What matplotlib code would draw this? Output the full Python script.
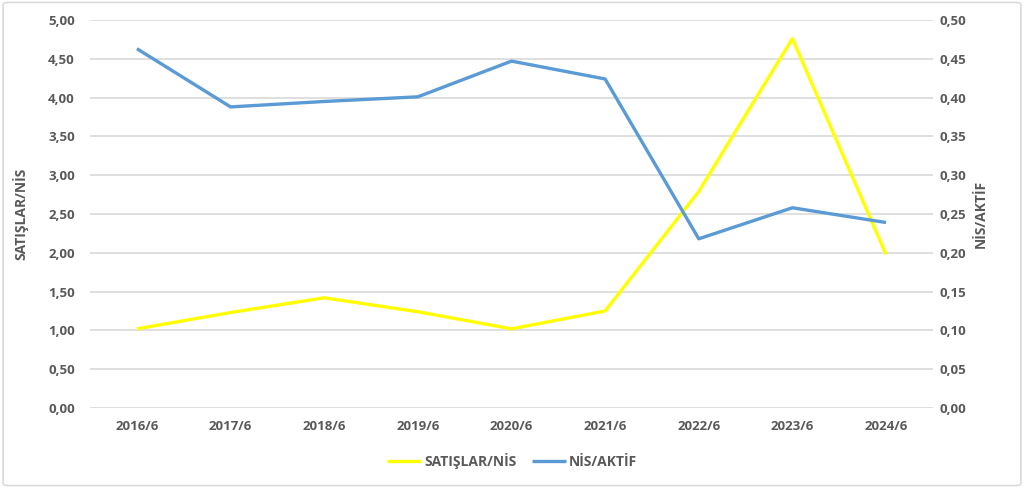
import matplotlib
matplotlib.use("Agg")
import matplotlib.pyplot as plt
from matplotlib.patches import FancyBboxPatch
from matplotlib.ticker import FuncFormatter, MultipleLocator

categories = ["2016/6", "2017/6", "2018/6", "2019/6", "2020/6", "2021/6", "2022/6", "2023/6", "2024/6"]
satislar_nis = [1.02, 1.23, 1.42, 1.24, 1.02, 1.25, 2.79, 4.76, 1.98]
nis_aktif = [0.463, 0.388, 0.395, 0.401, 0.447, 0.424, 0.218, 0.258, 0.239]

plt.rcParams['font.family'] = ['Open Sans', 'DejaVu Sans']
text_color = "#595959"
grid_color = "#D9D9D9"

fig = plt.figure(figsize=(10.24, 4.88), dpi=100)
ax = fig.add_axes([0.088, 0.164, 0.823, 0.795])
ax2 = ax.twinx()

x = list(range(len(categories)))
l1, = ax.plot(x, satislar_nis, color="#FFFF00", lw=2.4, label="SATIŞLAR/NİS", solid_capstyle="butt", zorder=3)
l2, = ax2.plot(x, nis_aktif, color="#5B9BD5", lw=2.4, label="NİS/AKTİF", solid_capstyle="butt", zorder=3)

ax.set_xlim(-0.5, len(categories) - 0.5)
ax.set_ylim(0, 5)
ax2.set_ylim(0, 0.5)
ax.yaxis.set_major_locator(MultipleLocator(0.5))
ax2.yaxis.set_major_locator(MultipleLocator(0.05))
fmt = FuncFormatter(lambda v, p: f"{v:.2f}".replace(".", ","))
ax.yaxis.set_major_formatter(fmt)
ax2.yaxis.set_major_formatter(fmt)
ax.set_xticks(x)
ax.set_xticklabels(categories)

ax.grid(axis="y", color=grid_color, lw=1.2)
ax.set_axisbelow(True)
for a in (ax, ax2):
    for s in a.spines.values():
        s.set_visible(False)
    a.tick_params(length=0, colors=text_color, labelsize=9.5)
    for lab in a.get_xticklabels() + a.get_yticklabels():
        lab.set_fontweight("bold")
ax.tick_params(axis="y", pad=11)
ax2.tick_params(axis="y", pad=5)
ax.tick_params(axis="x", pad=9)

ax.set_ylabel("SATIŞLAR/NİS", color=text_color, fontsize=10, fontweight="bold", labelpad=14)
ax2.set_ylabel("NİS/AKTİF", color=text_color, fontsize=10, fontweight="bold", labelpad=5)

fig.legend(handles=[l1, l2], loc="center", bbox_to_anchor=(0.5, 0.055), ncol=2, frameon=False,
           prop={"size": 10, "weight": "bold"}, labelcolor=text_color, handlelength=2.5,
           handletextpad=0.2, columnspacing=1.1)

border = FancyBboxPatch((0.003, 0.005), 0.994, 0.99, boxstyle="round,pad=0,rounding_size=0.005",
                        transform=fig.transFigure, fill=False, edgecolor=grid_color, lw=1.2)
fig.patches.append(border)

fig.savefig("out.png", dpi=100)
